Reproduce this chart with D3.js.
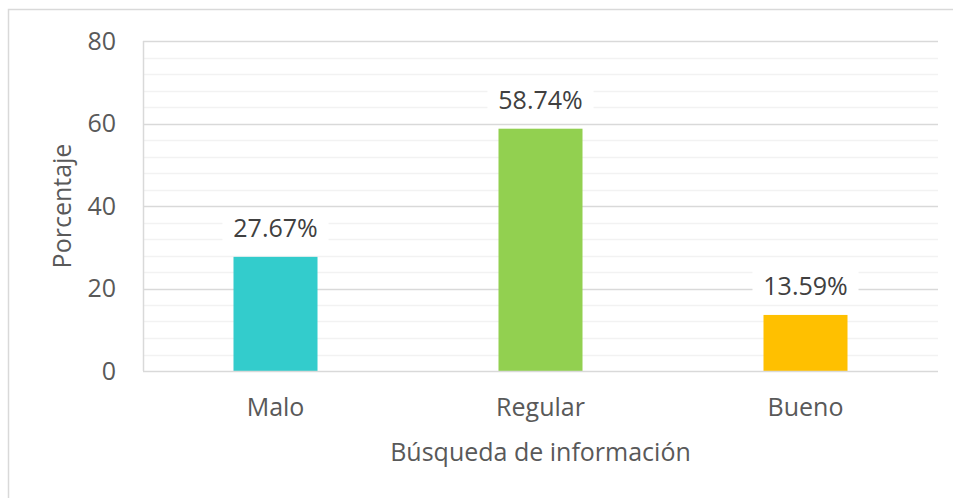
<!DOCTYPE html>
<html><head><meta charset="utf-8">
<script src="https://cdn.jsdelivr.net/npm/d3@7"></script>
<style>body{margin:0;background:#fff}svg{display:block}text{font-family:"Open Sans",sans-serif}</style>
</head><body><svg id="c" width="953" height="498"></svg>
<script>
const categories = ["Malo", "Regular", "Bueno"];
const values = [27.67, 58.74, 13.59];
const colors = ["#33CCCC", "#92D050", "#FFC000"];
const yTicks = [0, 20, 40, 60, 80];
const xTitle = "Búsqueda de información";
const yTitle = "Porcentaje";

const FS = 25;
const svg = d3.select("#c");
const m = {l:143, r:938, t:41, b:371};
svg.append("path").attr("d","M8.5,498 V9.5 H953").attr("fill","none").attr("stroke","#d9d9d9").attr("stroke-width",1.5);

const x = d3.scaleBand().domain(categories).range([m.l, m.r]).paddingInner(0.683).paddingOuter(0.3415);
const y = d3.scaleLinear().domain([0, 80]).range([m.b, m.t]);

const minor = d3.range(0, 81, 4).filter(v => v % 20 !== 0);
svg.append("g").selectAll("line").data(minor).join("line")
  .attr("x1", m.l).attr("x2", m.r).attr("y1", d=>Math.round(y(d))+0.5).attr("y2", d=>Math.round(y(d))+0.5)
  .attr("stroke","#f2f2f2").attr("stroke-width",1.5);
svg.append("g").selectAll("line").data(yTicks.filter(v=>v>0)).join("line")
  .attr("x1", m.l).attr("x2", m.r).attr("y1", d=>Math.round(y(d))+0.5).attr("y2", d=>Math.round(y(d))+0.5)
  .attr("stroke","#d9d9d9").attr("stroke-width",1.5);

const ya = svg.append("g").attr("transform",`translate(${m.l},0)`)
  .call(d3.axisLeft(y).tickValues(yTicks).tickSize(0).tickPadding(27));
ya.select(".domain").remove();
ya.selectAll("text").attr("font-size",FS).attr("fill","#595959").attr("font-family","Open Sans");
svg.append("line").attr("x1",m.l+0.5).attr("x2",m.l+0.5).attr("y1",m.t).attr("y2",m.b).attr("stroke","#d9d9d9").attr("stroke-width",1.5);

svg.append("g").selectAll("rect").data(values).join("rect")
  .attr("x",(d,i)=>x(categories[i])).attr("width",x.bandwidth())
  .attr("y",d=>y(d)).attr("height",d=>y(0)-y(d)).attr("fill",(d,i)=>colors[i]);

svg.append("line").attr("x1",m.l).attr("x2",m.r).attr("y1",m.b+0.5).attr("y2",m.b+0.5).attr("stroke","#d9d9d9").attr("stroke-width",1.5);
const xa = svg.append("g").attr("transform",`translate(0,${m.b})`)
  .call(d3.axisBottom(x).tickSize(0).tickPadding(27));
xa.select(".domain").remove();
xa.selectAll("text").attr("font-size",FS).attr("fill","#595959").attr("font-family","Open Sans");

const lg = svg.append("g").selectAll("g").data(values).join("g")
  .attr("transform",(d,i)=>`translate(${x(categories[i])+x.bandwidth()/2},${y(d)-29})`);
lg.append("rect").attr("x",-53).attr("y",-17).attr("width",106).attr("height",34).attr("fill","#fff");
lg.append("text").attr("text-anchor","middle").attr("dy","0.36em").attr("font-size",FS).attr("fill","#404040")
  .text(d=>d.toFixed(2)+"%");

svg.append("text").attr("x",(m.l+m.r)/2).attr("y",461).attr("text-anchor","middle").attr("font-size",FS).attr("fill","#595959").text(xTitle);
svg.append("text").attr("transform",`translate(71,${(m.t+m.b)/2}) rotate(-90)`).attr("text-anchor","middle").attr("font-size",FS).attr("fill","#595959").text(yTitle);
</script></body></html>
